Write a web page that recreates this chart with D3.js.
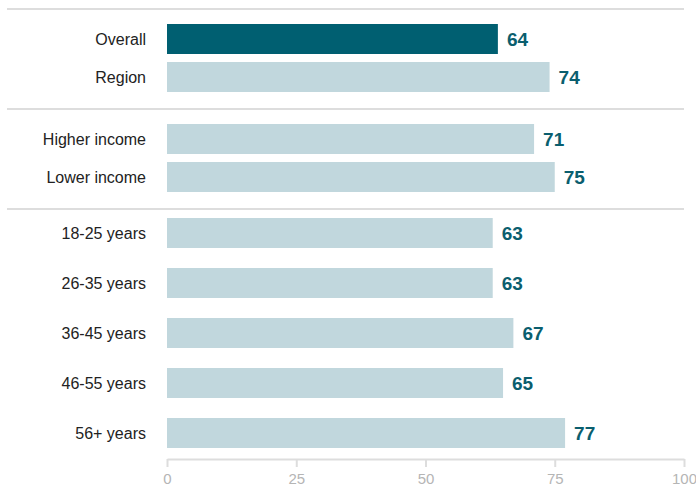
<!DOCTYPE html>
<meta charset="utf-8">
<script src="https://d3js.org/d3.v7.min.js"></script>
<style>
  body { margin: 0; background: #fff; }
  text { font-family: "Liberation Sans", Arial, sans-serif; }
</style>
<div id="chart"></div>
<script>
  // data, one array per block of rows
  var overallLabels = ["Overall", "Region"];
  var overallValues = [64, 74];
  var incomeLabels = ["Higher income", "Lower income"];
  var incomeValues = [71, 75];
  var ageLabels = ["18-25 years", "26-35 years", "36-45 years", "46-55 years", "56+ years"];
  var ageValues = [63, 63, 67, 65, 77];
  var xTicks = [0, 25, 50, 75, 100];

  var width = 696, height = 491;

  var svg = d3.select("#chart")
    .append("svg")
    .attr("width", width)
    .attr("height", height);

  var xScale = d3.scaleLinear().domain([0, 100]).range([167, 684]);

  // each block has its own band scale (the age block is spaced wider)
  var blocks = [
    { labels: overallLabels, values: overallValues, sep: 8, y0: 24, y1: 92, inner: 8 / 38 },
    { labels: incomeLabels, values: incomeValues, sep: 108, y0: 124, y1: 192, inner: 8 / 38 },
    { labels: ageLabels, values: ageValues, sep: 208, y0: 218, y1: 448, inner: 0.4 }
  ];

  // separator lines above each block
  svg.selectAll(".sep")
    .data(blocks)
    .enter()
    .append("line")
    .attr("x1", 7)
    .attr("x2", 684)
    .attr("y1", function (d) { return d.sep + 1; })
    .attr("y2", function (d) { return d.sep + 1; })
    .attr("stroke", "#dddddd")
    .attr("stroke-width", 2);

  blocks.forEach(function (b) {
    var rows = b.labels.map(function (l, i) { return { label: l, value: b.values[i] }; });

    var yScale = d3.scaleBand()
      .domain(b.labels)
      .range([b.y0, b.y1])
      .paddingInner(b.inner)
      .paddingOuter(0);

    var g = svg.append("g");

    g.selectAll("rect")
      .data(rows)
      .enter()
      .append("rect")
      .attr("x", xScale(0))
      .attr("y", function (d) { return yScale(d.label); })
      .attr("width", function (d) { return xScale(d.value) - xScale(0); })
      .attr("height", yScale.bandwidth())
      .attr("fill", function (d) { return d.label === "Overall" ? "#005f71" : "#c1d7dd"; });

    g.selectAll(".cat")
      .data(rows)
      .enter()
      .append("text")
      .attr("x", 146)
      .attr("y", function (d) { return yScale(d.label) + yScale.bandwidth() / 2; })
      .attr("dy", "0.35em")
      .attr("text-anchor", "end")
      .attr("font-size", "16px")
      .attr("fill", "#222")
      .text(function (d) { return d.label; });

    g.selectAll(".val")
      .data(rows)
      .enter()
      .append("text")
      .attr("x", function (d) { return xScale(d.value) + 9; })
      .attr("y", function (d) { return yScale(d.label) + yScale.bandwidth() / 2; })
      .attr("dy", "0.36em")
      .attr("font-size", "19px")
      .attr("font-weight", "bold")
      .attr("fill", "#0a5e6e")
      .text(function (d) { return d.value; });
  });

  // bottom axis
  var xAxis = d3.axisBottom(xScale)
    .tickValues(xTicks)
    .tickSize(8)
    .tickSizeOuter(0)
    .tickPadding(6);

  var axisG = svg.append("g")
    .attr("transform", "translate(0,459)")
    .call(xAxis);

  axisG.select(".domain").attr("stroke", "#dddddd").attr("stroke-width", 2);
  axisG.selectAll(".tick line").attr("stroke", "#dddddd").attr("stroke-width", 2);
  axisG.selectAll(".tick text")
    .attr("fill", "#b5b5b5")
    .attr("font-size", "15px")
    .attr("font-family", "\"Liberation Sans\", Arial, sans-serif");
</script>
